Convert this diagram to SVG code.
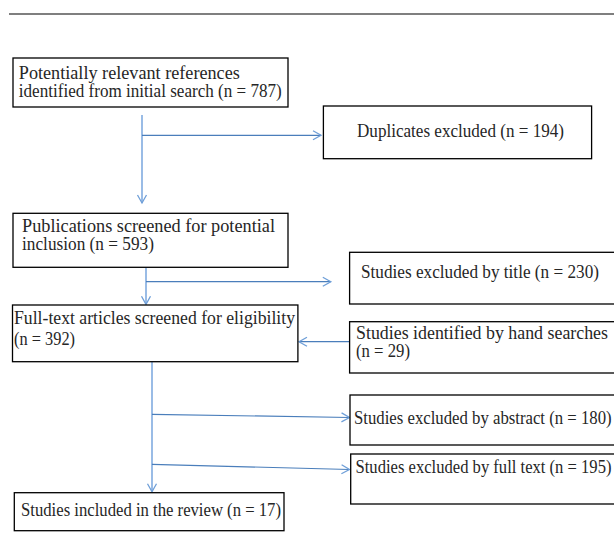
<svg xmlns="http://www.w3.org/2000/svg" width="614" height="560" viewBox="0 0 614 560">
<style>
.box{fill:#fff;stroke:#000;stroke-width:1.3}
.t{font-family:"Liberation Serif",serif;font-size:18px;fill:#262626}
.v{stroke:#8fb5e4;stroke-width:1.8;fill:none}
.h{stroke:#4a7ebb;stroke-width:1.2;fill:none}
</style>
<defs>
<marker id="ah" markerUnits="userSpaceOnUse" markerWidth="12" markerHeight="12" refX="9" refY="6" orient="auto">
<path d="M1,1.5 L9,6 L1,10.5" fill="none" stroke="#6f9fd8" stroke-width="1.3"/>
</marker>
</defs>
<line x1="9" y1="14" x2="614" y2="14" stroke="#555" stroke-width="1.5"/>
<g id="connectors">
<line class="v" x1="142" y1="115" x2="142" y2="203" marker-end="url(#ah)"/>
<line class="h" x1="142" y1="135.3" x2="321" y2="135.3" marker-end="url(#ah)"/>
<line class="v" x1="146" y1="267.5" x2="146" y2="304.3" marker-end="url(#ah)"/>
<line class="h" x1="146" y1="281.7" x2="330.8" y2="281.7" marker-end="url(#ah)"/>
<line class="h" x1="349.6" y1="341.7" x2="299" y2="341.7" marker-end="url(#ah)"/>
<line class="v" x1="152" y1="362" x2="152" y2="491.7" marker-end="url(#ah)"/>
<line class="h" x1="152" y1="414.3" x2="349.5" y2="417.5" marker-end="url(#ah)"/>
<line class="h" x1="152" y1="464.3" x2="349.5" y2="469.5" marker-end="url(#ah)"/>
</g>
<g id="n1">
<rect class="box" x="13" y="58" width="275" height="49"/>
<text class="t" x="18.8" y="78.5" textLength="221" lengthAdjust="spacingAndGlyphs">Potentially relevant  references</text>
<text class="t" x="18.8" y="97" textLength="263" lengthAdjust="spacingAndGlyphs">identified from initial search (n = 787)</text>
</g>
<g id="n2">
<rect class="box" x="323.4" y="106" width="268.2" height="52.7"/>
<text class="t" x="357" y="136.7" textLength="207" lengthAdjust="spacingAndGlyphs">Duplicates excluded (n = 194)</text>
</g>
<g id="n3">
<rect class="box" x="13" y="213.3" width="275" height="54"/>
<text class="t" x="22" y="231.7" textLength="253" lengthAdjust="spacingAndGlyphs">Publications screened  for potential</text>
<text class="t" x="22" y="250" textLength="132" lengthAdjust="spacingAndGlyphs">inclusion (n = 593)</text>
</g>
<g id="n4">
<rect class="box" x="349.6" y="252.3" width="270" height="51.7"/>
<text class="t" x="361" y="278.3" textLength="238" lengthAdjust="spacingAndGlyphs">Studies excluded by title (n = 230)</text>
</g>
<g id="n5">
<rect class="box" x="12.5" y="305" width="285.4" height="56.7"/>
<text class="t" x="14" y="324.3" textLength="281" lengthAdjust="spacingAndGlyphs">Full-text articles screened for  eligibility</text>
<text class="t" x="14" y="345" textLength="61" lengthAdjust="spacingAndGlyphs">(n = 392)</text>
</g>
<g id="n6">
<rect class="box" x="349.6" y="321.7" width="270" height="51.3"/>
<text class="t" x="356" y="339.3" textLength="252" lengthAdjust="spacingAndGlyphs">Studies identified by hand searches</text>
<text class="t" x="356" y="357" textLength="54" lengthAdjust="spacingAndGlyphs">(n = 29)</text>
</g>
<g id="n7">
<rect class="box" x="350" y="395" width="270" height="50"/>
<text class="t" x="354" y="424" textLength="257.6" lengthAdjust="spacingAndGlyphs">Studies excluded by abstract (n = 180)</text>
</g>
<g id="n8">
<rect class="box" x="350.7" y="454" width="270" height="50"/>
<text class="t" x="355.5" y="473" textLength="256" lengthAdjust="spacingAndGlyphs">Studies excluded by full text (n = 195)</text>
</g>
<g id="n9">
<rect class="box" x="14.3" y="492.7" width="269.7" height="38"/>
<text class="t" x="21" y="516" textLength="260" lengthAdjust="spacingAndGlyphs">Studies included in the review (n =  17)</text>
</g>
</svg>
